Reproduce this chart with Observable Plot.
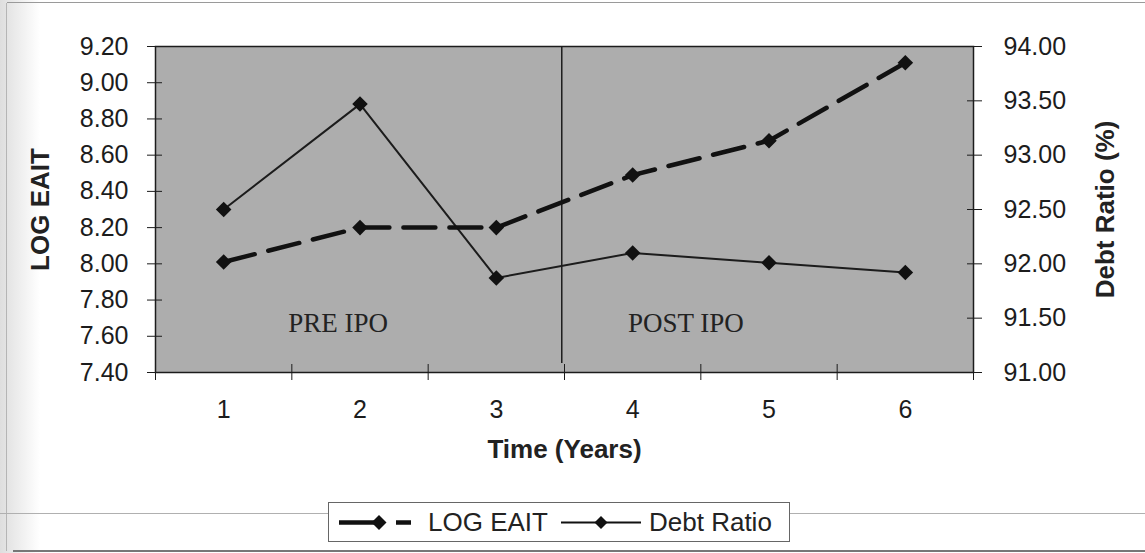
<!DOCTYPE html>
<html>
<head>
<meta charset="utf-8">
<script src="https://cdn.jsdelivr.net/npm/d3@7"></script>
<script src="https://cdn.jsdelivr.net/npm/@observablehq/plot@0.6"></script>
<style>
  html, body { margin: 0; padding: 0; background: #fff; }
  #wrap { position: relative; width: 1145px; height: 553px; overflow: hidden; font-family: "Liberation Sans", Arial, sans-serif; color: #222; }
  .deco { position: absolute; }
  #chart { position: absolute; left: 0; top: 0; }
  #legend { position: absolute; left: 328px; top: 502px; width: 462px; height: 40px; border: 1px solid #666; background: #fff; box-sizing: border-box; }
  #legend svg { position: absolute; left: 0; top: 0; }
  #legend span { position: absolute; top: 0; line-height: 38px; font-size: 26px; color: #222; white-space: nowrap; }
</style>
</head>
<body>
<div id="wrap">
  <div class="deco" style="left:0;top:0;width:40px;height:553px;background:linear-gradient(to right,#dedede,#ffffff);"></div>
  <div class="deco" style="left:6px;top:3px;width:1px;height:548px;background:#b5b5b5;"></div>
  <div class="deco" style="left:7px;top:2px;width:1138px;height:1px;background:#9a9a9a;"></div>
  <div class="deco" style="left:0;top:513px;width:328px;height:1px;background:#b0b0b0;"></div>
  <div class="deco" style="left:790px;top:513px;width:355px;height:1px;background:#b0b0b0;"></div>
  <div class="deco" style="left:13px;top:550px;width:1132px;height:2px;background:#777;"></div>
  <div id="chart"></div>
  <div id="legend">
    <svg width="462" height="40">
      <line x1="10" y1="19.5" x2="50" y2="19.5" stroke="#111" stroke-width="4.5"/>
      <polygon points="50,12 57.5,19.5 50,27 42.5,19.5" fill="#111"/>
      <line x1="67" y1="19.5" x2="82" y2="19.5" stroke="#111" stroke-width="4.5"/>
      <line x1="232" y1="19.5" x2="312" y2="19.5" stroke="#111" stroke-width="2"/>
      <polygon points="272,13 278.5,19.5 272,26 265.5,19.5" fill="#111"/>
    </svg>
    <span id="lg1" style="left:99px;"></span>
    <span id="lg2" style="left:320px;"></span>
  </div>
</div>
<script>
// ---- data ----
const years = [1, 2, 3, 4, 5, 6];
const logEait = [8.01, 8.20, 8.20, 8.49, 8.68, 9.11];
const debtRatio = [92.50, 93.47, 91.87, 92.10, 92.01, 91.92];
const logTicks = [7.4, 7.6, 7.8, 8.0, 8.2, 8.4, 8.6, 8.8, 9.0, 9.2];
const debtTicks = [91.0, 91.5, 92.0, 92.5, 93.0, 93.5, 94.0];
const yearBoundaries = [0.5, 1.5, 2.5, 3.5, 4.5, 5.5, 6.5];
const periodLabels = ["PRE IPO", "POST IPO"];
const periodLabelX = [1.84, 4.39];
const periodLabelY = [7.67, 7.67];
const ipoBoundary = 3.48;
const ipoBoundaryBottom = 7.45;
const seriesNames = ["LOG EAIT", "Debt Ratio"];
const axisTitles = { left: "LOG EAIT", right: "Debt Ratio (%)", bottom: "Time (Years)" };

// ---- build ----
const debtToLog = d3.scaleLinear().domain([91, 94]).range([7.4, 9.2]);
const rows = years.map((t, i) => ({ t, log: logEait[i], debt: debtRatio[i] }));
const ink = "#1c1c1c";
const sans = '"Liberation Sans", Arial, sans-serif';

const chart = Plot.plot({
  width: 1145,
  height: 490,
  marginLeft: 155,
  marginRight: 172,
  marginTop: 46,
  marginBottom: 118,
  style: { fontFamily: sans, fontSize: "25px", color: ink, background: "transparent", overflow: "visible" },
  x: { domain: [0.5, 6.5] },
  y: { domain: [7.4, 9.2] },
  marks: [
    Plot.frame({ fill: "#adadad" }),
    Plot.ruleX([ipoBoundary], { y1: ipoBoundaryBottom, y2: 9.2, stroke: ink, strokeWidth: 1.5 }),
    Plot.text(periodLabels, {
      x: (d, i) => periodLabelX[i], y: (d, i) => periodLabelY[i], text: d => d,
      fontFamily: '"Liberation Serif", "Times New Roman", serif', fontSize: 27, fill: "#222"
    }),
    Plot.line(rows, { x: "t", y: d => debtToLog(d.debt), stroke: ink, strokeWidth: 2 }),
    Plot.line(rows, { x: "t", y: "log", stroke: "#111", strokeWidth: 4.5, strokeDasharray: "32,14" }),
    Plot.dot(rows, { x: "t", y: "log", symbol: "diamond2", r: 7, fill: "#111" }),
    Plot.dot(rows, { x: "t", y: d => debtToLog(d.debt), symbol: "diamond2", r: 7, fill: "#111" }),
    Plot.frame({ stroke: ink, strokeWidth: 1.5 }),
    // left axis
    Plot.axisY({ ticks: logTicks, tickSize: 15, dx: 7, tickFormat: () => "", label: null, stroke: ink }),
    Plot.axisY({ ticks: logTicks, tickSize: 0, tickPadding: 27, tickFormat: d => d.toFixed(2), label: null, fontSize: 25 }),
    // right axis
    Plot.axisY({ anchor: "right", ticks: debtTicks.map(debtToLog), tickSize: 15, dx: -7, tickFormat: () => "", label: null, stroke: ink }),
    Plot.axisY({ anchor: "right", ticks: debtTicks.map(debtToLog), tickSize: 0, tickPadding: 30, tickFormat: d => debtToLog.invert(d).toFixed(2), label: null, fontSize: 25 }),
    // x axis
    Plot.axisX({ ticks: yearBoundaries, tickSize: 16, dy: -8, tickFormat: () => "", label: null, stroke: ink }),
    Plot.axisX({ ticks: years, tickSize: 0, tickPadding: 28, tickFormat: d => String(d), label: null, fontSize: 25 }),
    // titles
    Plot.text([axisTitles.left], { text: d => d, frameAnchor: "left", textAnchor: "middle", rotate: -90, dx: -115, fontWeight: "bold", fontSize: 26, fill: "#222" }),
    Plot.text([axisTitles.right], { text: d => d, frameAnchor: "right", textAnchor: "middle", rotate: -90, dx: 132, fontWeight: "bold", fontSize: 26, fill: "#222" }),
    Plot.text([axisTitles.bottom], { text: d => d, frameAnchor: "bottom", dy: 85, fontWeight: "bold", fontSize: 26, fill: "#222" })
  ]
});
document.getElementById("chart").appendChild(chart);
document.getElementById("lg1").textContent = seriesNames[0];
document.getElementById("lg2").textContent = seriesNames[1];
</script>
</body>
</html>
